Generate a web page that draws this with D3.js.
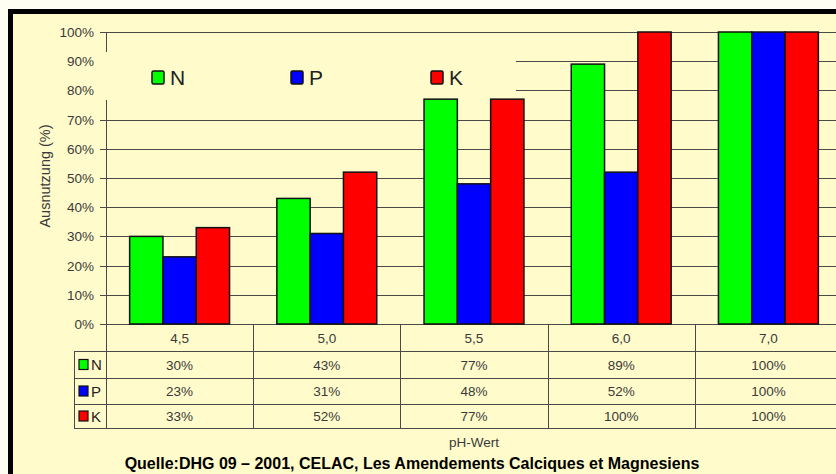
<!DOCTYPE html>
<html>
<head>
<meta charset="utf-8">
<script src="https://cdn.jsdelivr.net/npm/d3@7"></script>
<style>
  body { margin: 0; background: #fffef2; }
  svg { display: block; font-family: "Liberation Sans", Arial, sans-serif; }
</style>
</head>
<body>
<svg id="chart" width="836" height="474"></svg>
<script>
// data
const phValues = ["4,5", "5,0", "5,5", "6,0", "7,0"];
const seriesNames = ["N", "P", "K"];
const valuesN = [30, 43, 77, 89, 100];
const valuesP = [23, 31, 48, 52, 100];
const valuesK = [33, 52, 77, 100, 100];
const yTicks = [0, 10, 20, 30, 40, 50, 60, 70, 80, 90, 100];
const colors = { N: "#00ff00", P: "#0000ff", K: "#ff0000" };

const seriesValues = { N: valuesN, P: valuesP, K: valuesK };

const svg = d3.select("#chart");
const cream = "#fffbcb";
const lineColor = "#4a4a4a";
const textColor = "#3a3a3a";

// background + frame
svg.append("rect").attr("x", 8).attr("y", 9).attr("width", 840).attr("height", 480).attr("fill", cream);
svg.append("line").attr("x1", 8).attr("x2", 836).attr("y1", 11.5).attr("y2", 11.5)
    .attr("stroke", "#000").attr("stroke-width", 5);
svg.append("line").attr("x1", 10.5).attr("x2", 10.5).attr("y1", 9).attr("y2", 474)
    .attr("stroke", "#000").attr("stroke-width", 5);

// scales
const x0 = d3.scaleBand().domain(phValues).range([106, 842]);
const x1 = d3.scaleBand().domain(seriesNames).range([0, x0.bandwidth()]).paddingOuter(0.71);
const y = d3.scaleLinear().domain([0, 100]).range([324, 32]);

// gridlines
svg.append("g").selectAll("line").data(yTicks).join("line")
    .attr("x1", 100).attr("x2", 836)
    .attr("y1", d => Math.round(y(d)) + 0.5).attr("y2", d => Math.round(y(d)) + 0.5)
    .attr("stroke", lineColor).attr("stroke-width", 1);

// y axis line
svg.append("line").attr("x1", 106.5).attr("x2", 106.5).attr("y1", y(100)).attr("y2", y(0))
    .attr("stroke", lineColor);

// legend box covers gridlines and axis, but sits behind the bars
svg.append("rect").attr("x", 98).attr("y", 52).attr("width", 418).attr("height", 48).attr("fill", cream);

// y tick labels
svg.append("g").selectAll("text").data(yTicks).join("text")
    .attr("x", 94).attr("y", d => y(d) + 5)
    .attr("text-anchor", "end").attr("font-size", 13.5).attr("fill", textColor)
    .text(d => d + "%");

// y axis title
svg.append("text")
    .attr("transform", "translate(50,176) rotate(-90)")
    .attr("text-anchor", "middle").attr("font-size", 14.5).attr("fill", textColor)
    .text("Ausnutzung (%)");

// bars
const groups = svg.append("g").selectAll("g").data(phValues).join("g")
    .attr("transform", d => `translate(${x0(d)},0)`);
groups.selectAll("rect")
    .data((d, i) => seriesNames.map(s => ({ key: s, value: seriesValues[s][i] })))
    .join("rect")
    .attr("x", d => x1(d.key))
    .attr("y", d => y(d.value))
    .attr("width", x1.bandwidth())
    .attr("height", d => y(0) - y(d.value))
    .attr("fill", d => colors[d.key])
    .attr("stroke", "#111").attr("stroke-width", 1.5);

// legend
const legendX = [152, 291, 431];
const legend = svg.append("g").selectAll("g").data(seriesNames).join("g")
    .attr("transform", (d, i) => `translate(${legendX[i]},71)`);
legend.append("rect").attr("width", 12).attr("height", 13).attr("rx", 1.5)
    .attr("fill", d => colors[d]).attr("stroke", "#111").attr("stroke-width", 1.5);
legend.append("text").attr("x", 18).attr("y", 14).attr("font-size", 21).attr("fill", "#222")
    .text(d => d);

// data table
const rowY = [324, 351, 378, 404, 428];
const table = svg.append("g");
table.selectAll("line.h").data(rowY.slice(1)).join("line")
    .attr("x1", 74).attr("x2", 836)
    .attr("y1", d => d + 0.5).attr("y2", d => d + 0.5)
    .attr("stroke", lineColor);
table.append("line").attr("x1", 74.5).attr("x2", 74.5).attr("y1", rowY[1]).attr("y2", rowY[4])
    .attr("stroke", lineColor);
table.selectAll("line.v").data(phValues).join("line")
    .attr("x1", d => Math.round(x0(d)) + 0.5).attr("x2", d => Math.round(x0(d)) + 0.5)
    .attr("y1", rowY[0]).attr("y2", rowY[4])
    .attr("stroke", lineColor);

// category labels
table.selectAll("text.cat").data(phValues).join("text")
    .attr("x", d => x0(d) + x0.bandwidth() / 2).attr("y", (rowY[0] + rowY[1]) / 2 + 5)
    .attr("text-anchor", "middle").attr("font-size", 13.5).attr("fill", textColor)
    .text(d => d);

// value rows
seriesNames.forEach((s, r) => {
    const cy = (rowY[r + 1] + rowY[r + 2]) / 2;
    table.append("rect").attr("x", 79).attr("y", cy - 5).attr("width", 9).attr("height", 10)
        .attr("fill", colors[s]).attr("stroke", "#111").attr("stroke-width", 1.2);
    table.append("text").attr("x", 91).attr("y", cy + 5.5).attr("font-size", 15).attr("fill", "#222").text(s);
    table.selectAll(null).data(phValues).join("text")
        .attr("x", d => x0(d) + x0.bandwidth() / 2).attr("y", cy + 5)
        .attr("text-anchor", "middle").attr("font-size", 13.5).attr("fill", textColor)
        .text((d, i) => seriesValues[s][i] + "%");
});

// x axis title
svg.append("text").attr("x", 474).attr("y", 447)
    .attr("text-anchor", "middle").attr("font-size", 13.5).attr("fill", textColor)
    .text("pH-Wert");

// source
svg.append("text").attr("x", 412).attr("y", 469)
    .attr("text-anchor", "middle").attr("font-size", 16).attr("font-weight", "bold").attr("fill", "#000")
    .text("Quelle:DHG 09 \u2013 2001, CELAC, Les Amendements Calciques et Magnesiens");
</script>
</body>
</html>
